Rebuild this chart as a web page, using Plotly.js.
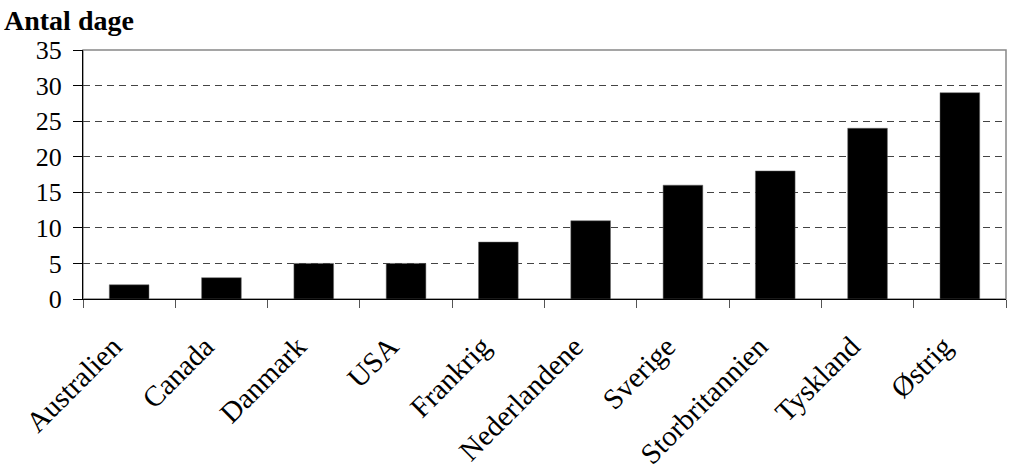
<!DOCTYPE html>
<html><head><meta charset="utf-8">
<script src="https://cdn.plot.ly/plotly-3.0.1.min.js"></script>
<style>html,body{margin:0;padding:0;background:#fff}#chart{width:1010px;height:472px}</style>
</head><body><div id="chart"></div>
<script>
const countries = ["Australien","Canada","Danmark","USA","Frankrig","Nederlandene","Sverige","Storbritannien","Tyskland","Østrig"];
const days = [2,3,5,5,8,11,16,18,24,29];
const yTicks = [0,5,10,15,20,25,30,35];
const yTitle = "Antal dage";

const serif = "Liberation Serif, Times New Roman, serif";
const data = [{
  type: "bar", x: countries, y: days,
  marker: {color: "#000", line: {color: "#666", width: 0.5}},
  hoverinfo: "x+y"
}];
const layout = {
  width: 1010, height: 472,
  margin: {l: 83, r: 4, t: 50, b: 173},
  paper_bgcolor: "#fff", plot_bgcolor: "#fff",
  bargap: 0.57,
  showlegend: false,
  title: {text: "<b>" + yTitle + "</b>", x: 4/1010, xanchor: "left", xref: "container",
          y: 1 - 10/472, yanchor: "top", yref: "container",
          font: {family: serif, size: 28, color: "#000"}},
  xaxis: {
    type: "category",
    tickangle: -45,
    tickson: "boundaries",
    ticks: "outside", ticklen: 8, tickcolor: "#555", tickwidth: 1,
    showline: true, linecolor: "#000", linewidth: 1,
    showgrid: false, zeroline: false,
    ticklabelstandoff: 18,
    ticklabelshift: -16,
    tickfont: {family: serif, size: 29, color: "#000"}
  },
  yaxis: {
    range: [0, 35], tickvals: yTicks, ticktext: yTicks.map(String),
    ticks: "outside", ticklen: 9, tickcolor: "#000", tickwidth: 1,
    showline: true, linecolor: "#000", linewidth: 1,
    showgrid: true, gridcolor: "#444", gridwidth: 1, griddash: "7px,5px",
    zeroline: false,
    ticklabelstandoff: 6,
    tickfont: {family: serif, size: 26, color: "#000"}
  },
  shapes: [{type: "rect", xref: "paper", yref: "paper", x0: 0, x1: 1, y0: 0, y1: 1,
            line: {color: "#888", width: 1.5}, layer: "below"}]
};
Plotly.newPlot("chart", data, layout, {displayModeBar: false, staticPlot: true});
</script></body></html>
